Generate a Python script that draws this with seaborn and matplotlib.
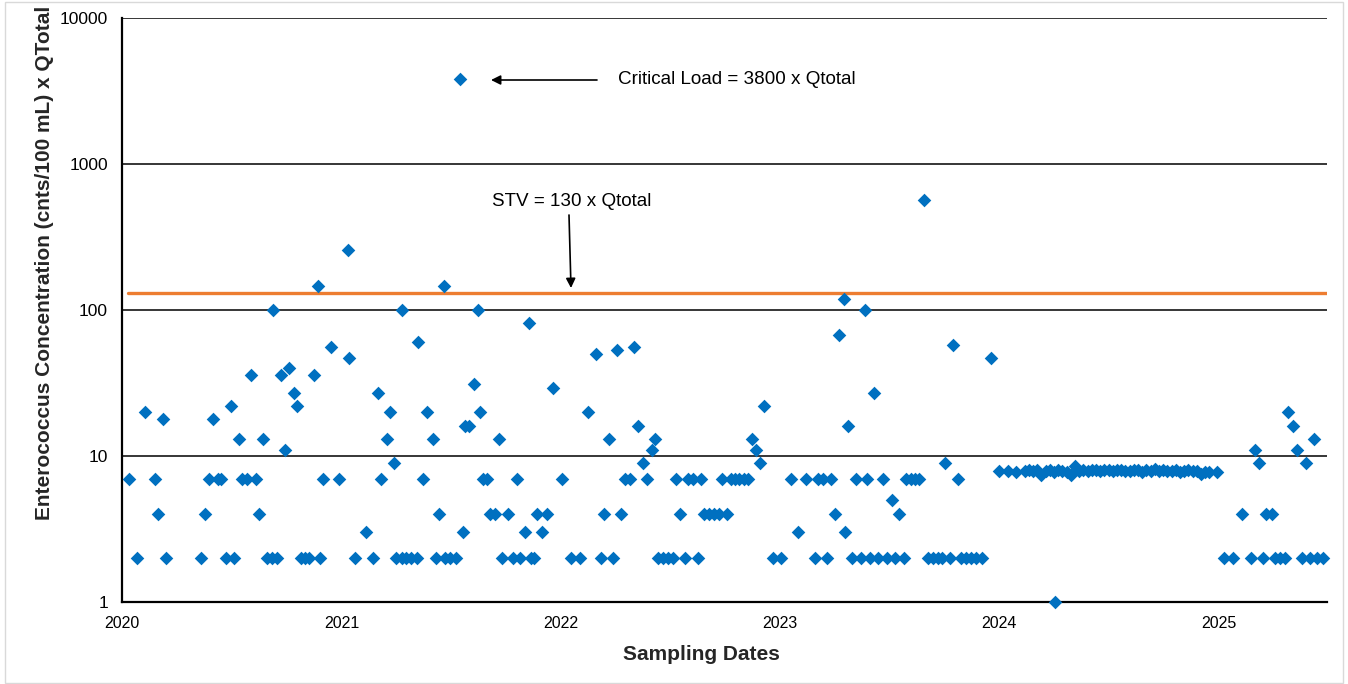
import numpy as np
import pandas as pd
import matplotlib
matplotlib.use("Agg")
import matplotlib.pyplot as plt
import matplotlib.dates as mdates
from matplotlib.ticker import FixedLocator, FuncFormatter, NullLocator
from matplotlib.patches import Rectangle
import seaborn as sns

# ---------------- data ----------------
dates_2020 = ["2020-01-12", "2020-01-26", "2020-02-08", "2020-02-25", "2020-03-01", "2020-03-09", "2020-03-14",
              "2020-05-12", "2020-05-18", "2020-05-25", "2020-06-01", "2020-06-09", "2020-06-14", "2020-06-22",
              "2020-07-01", "2020-07-06", "2020-07-14", "2020-07-19", "2020-07-27",
              "2020-08-03", "2020-08-11", "2020-08-16", "2020-08-23", "2020-08-30",
              "2020-09-07", "2020-09-09", "2020-09-15", "2020-09-22", "2020-09-29",
              "2020-10-05", "2020-10-14", "2020-10-19", "2020-10-26",
              "2020-11-01", "2020-11-08", "2020-11-16", "2020-11-23", "2020-11-26",
              "2020-12-01", "2020-12-15", "2020-12-28"]
values_2020 = [7, 2, 20, 7, 4, 18, 2,
               2, 4, 7, 18, 7, 7, 2,
               22, 2, 13, 7, 7,
               36, 7, 4, 13, 2,
               2, 100, 2, 36, 11,
               40, 27, 22, 2,
               2, 2, 36, 147, 2,
               7, 56, 7]

dates_2021 = ["2021-01-11", "2021-01-13", "2021-01-24", "2021-02-10", "2021-02-23",
              "2021-03-02", "2021-03-08", "2021-03-17", "2021-03-22", "2021-03-30",
              "2021-04-02", "2021-04-11", "2021-04-12", "2021-04-19", "2021-04-27",
              "2021-05-06", "2021-05-09", "2021-05-17", "2021-05-24",
              "2021-06-02", "2021-06-08", "2021-06-13", "2021-06-21", "2021-06-23", "2021-06-30",
              "2021-07-11", "2021-07-18", "2021-07-23", "2021-07-26",
              "2021-08-01", "2021-08-09", "2021-08-17", "2021-08-19", "2021-08-24",
              "2021-09-01", "2021-09-06", "2021-09-13", "2021-09-21", "2021-09-26",
              "2021-10-06", "2021-10-13", "2021-10-20", "2021-10-26",
              "2021-11-02", "2021-11-09", "2021-11-12", "2021-11-17", "2021-11-22",
              "2021-12-01", "2021-12-09", "2021-12-20"]
values_2021 = [257, 47, 2, 3, 2,
               27, 7, 13, 20, 9,
               2, 2, 100, 2, 2,
               2, 60, 7, 20,
               13, 2, 4, 147, 2, 2,
               2, 3800, 3, 16,
               16, 31, 100, 20, 7,
               7, 4, 4, 13, 2,
               4, 2, 7, 2,
               3, 81, 2, 2, 4,
               3, 4, 29]

dates_2022 = ["2022-01-04", "2022-01-19", "2022-02-02", "2022-02-15",
              "2022-03-01", "2022-03-09", "2022-03-15", "2022-03-22", "2022-03-29",
              "2022-04-05", "2022-04-11", "2022-04-18", "2022-04-26",
              "2022-05-03", "2022-05-10", "2022-05-18", "2022-05-25",
              "2022-06-02", "2022-06-07", "2022-06-12", "2022-06-21", "2022-06-29",
              "2022-07-07", "2022-07-12", "2022-07-19", "2022-07-27",
              "2022-08-01", "2022-08-09", "2022-08-18", "2022-08-23", "2022-08-28",
              "2022-09-05", "2022-09-14", "2022-09-22", "2022-09-27",
              "2022-10-05", "2022-10-12", "2022-10-19", "2022-10-25",
              "2022-11-02", "2022-11-09", "2022-11-16", "2022-11-23", "2022-11-29",
              "2022-12-06", "2022-12-21"]
values_2022 = [7, 2, 2, 20,
               50, 2, 4, 13, 2,
               53, 4, 7, 7,
               56, 16, 9, 7,
               11, 13, 2, 2, 2,
               2, 7, 4, 2,
               7, 7, 2, 7, 4,
               4, 4, 4, 7,
               4, 7, 7, 7,
               7, 7, 13, 11, 9,
               22, 2]

dates_2023 = ["2023-01-03", "2023-01-20", "2023-02-01", "2023-02-14",
              "2023-03-01", "2023-03-06", "2023-03-14", "2023-03-21", "2023-03-27",
              "2023-04-03", "2023-04-10", "2023-04-18", "2023-04-20", "2023-04-25",
              "2023-05-02", "2023-05-08", "2023-05-16", "2023-05-23", "2023-05-27",
              "2023-06-01", "2023-06-07", "2023-06-14", "2023-06-22", "2023-06-29",
              "2023-07-07", "2023-07-12", "2023-07-19", "2023-07-27", "2023-07-31",
              "2023-08-08", "2023-08-15", "2023-08-21", "2023-08-30",
              "2023-09-05", "2023-09-13", "2023-09-22", "2023-09-28",
              "2023-10-03", "2023-10-12", "2023-10-17", "2023-10-25", "2023-10-30",
              "2023-11-08", "2023-11-16", "2023-11-24",
              "2023-12-04", "2023-12-19"]
values_2023 = [2, 7, 3, 7,
               2, 7, 7, 2, 7,
               4, 67, 119, 3, 16,
               2, 7, 2, 100, 7,
               2, 27, 2, 7, 2,
               5, 2, 4, 2, 7,
               7, 7, 7, 567,
               2, 2, 2, 2,
               9, 2, 58, 7, 2,
               2, 2, 2,
               2, 47]

dates_2024 = ["2024-01-02", "2024-01-16", "2024-01-30", "2024-02-13", "2024-02-20", "2024-02-27",
              "2024-03-05", "2024-03-12", "2024-03-19", "2024-03-26",
              "2024-04-02", "2024-04-03", "2024-04-09", "2024-04-16", "2024-04-23", "2024-04-30",
              "2024-05-07", "2024-05-14", "2024-05-21", "2024-05-28",
              "2024-06-04", "2024-06-11", "2024-06-18", "2024-06-25",
              "2024-07-02", "2024-07-09", "2024-07-16", "2024-07-23", "2024-07-30",
              "2024-08-06", "2024-08-13", "2024-08-20", "2024-08-27",
              "2024-09-03", "2024-09-10", "2024-09-17", "2024-09-24",
              "2024-10-01", "2024-10-08", "2024-10-15", "2024-10-22", "2024-10-29",
              "2024-11-05", "2024-11-12", "2024-11-19", "2024-11-26",
              "2024-12-03", "2024-12-10", "2024-12-17", "2024-12-30"]
values_2024 = [7.9, 7.9, 7.8, 7.9, 8.0, 7.9,
               8.0, 7.4, 7.9, 8.0,
               7.8, 1, 8.0, 7.9, 7.8, 7.4,
               8.5, 7.9, 8.0, 7.9,
               8.0, 8.0, 7.9, 8.0,
               8.0, 7.9, 8.0, 8.0, 7.9,
               7.9, 8.0, 8.0, 7.8,
               8.0, 7.9, 8.1, 7.9,
               8.0, 7.9, 7.9, 8.0, 7.8,
               7.9, 8.0, 7.9, 7.9,
               7.5, 7.8, 7.8, 7.8]

dates_2025 = ["2025-01-10", "2025-01-25", "2025-02-09", "2025-02-24",
              "2025-03-03", "2025-03-09", "2025-03-16", "2025-03-21", "2025-03-31",
              "2025-04-05", "2025-04-13", "2025-04-22", "2025-04-27",
              "2025-05-05", "2025-05-12", "2025-05-20", "2025-05-27",
              "2025-06-02", "2025-06-09", "2025-06-14", "2025-06-24"]
values_2025 = [2, 2, 4, 2,
               11, 9, 2, 4, 4,
               2, 2, 2, 20,
               16, 11, 2, 9,
               2, 13, 2, 2]

stv_value = 130
y_ticks = [1, 10, 100, 1000, 10000]
x_start, x_end = "2020-01-01", "2025-07-01"

all_dates = dates_2020 + dates_2021 + dates_2022 + dates_2023 + dates_2024 + dates_2025
all_values = values_2020 + values_2021 + values_2022 + values_2023 + values_2024 + values_2025
df = pd.DataFrame({"date": pd.to_datetime(all_dates), "value": all_values})

# ---------------- style ----------------
sns.set_style("white")
plt.rcParams["font.family"] = ["Liberation Sans", "DejaVu Sans"]

W, H = 1348, 684
fig = plt.figure(figsize=(W / 100, H / 100), dpi=100)
ax = fig.add_axes([122 / W, 1 - 602 / H, 1205 / W, 584 / H])

sns.scatterplot(data=df, x="date", y="value", marker="D", s=48, color="#0070C0",
                linewidth=0, ax=ax, clip_on=False, zorder=5, legend=False)

ax.set_yscale("log")
ax.set_ylim(y_ticks[0], y_ticks[-1])
ax.set_xlim(pd.Timestamp(x_start), pd.Timestamp(x_end))

ax.yaxis.set_major_locator(FixedLocator(y_ticks))
ax.yaxis.set_minor_locator(NullLocator())
ax.yaxis.set_major_formatter(FuncFormatter(lambda v, p: f"{int(round(v))}"))
ax.xaxis.set_major_locator(mdates.YearLocator())
ax.xaxis.set_major_formatter(mdates.DateFormatter("%Y"))
ax.xaxis.set_minor_locator(NullLocator())

ax.grid(False)
for yv in y_ticks[1:]:
    ax.axhline(yv, color="black", linewidth=1.1, zorder=2)

ax.axhline(stv_value, xmin=0.005, color="#ED7D31", linewidth=2.4, zorder=3)

for side in ["top", "right"]:
    ax.spines[side].set_visible(False)
for side in ["left", "bottom"]:
    ax.spines[side].set_color("black")
    ax.spines[side].set_linewidth(1.6)

ax.tick_params(axis="x", direction="in", length=5, width=1.2, pad=10, labelsize=11.5, colors="black")
ax.tick_params(axis="y", direction="out", length=6, width=1.2, pad=4, labelsize=12.5, colors="black")

ax.set_xlabel("Sampling Dates", fontsize=15, fontweight="bold")
ax.xaxis.set_label_coords((701 - 122) / 1205, (602 - 654) / 584)
ax.xaxis.label.set_va("center")
ax.set_ylabel("Enterococcus Concentration (cnts/100 mL) x QTotal", fontsize=15, fontweight="bold")
ax.yaxis.set_label_coords((45 - 122) / 1205, (602 - 263) / 584)
ax.yaxis.label.set_va("center")

def fx(px):
    return (px - 122) / 1205

def fy(py):
    return (602 - py) / 584

ax.annotate("", xy=(fx(491), fy(80)), xytext=(fx(597), fy(80)), xycoords="axes fraction",
            textcoords="axes fraction",
            arrowprops=dict(arrowstyle="-|>", color="black", lw=1.2, mutation_scale=14, shrinkA=0, shrinkB=0))
ax.text(fx(618), fy(80), "Critical Load = 3800 x Qtotal", transform=ax.transAxes,
        ha="left", va="center", fontsize=13.6, color="black")

ax.annotate("", xy=(fx(571), fy(288)), xytext=(fx(569), fy(215)), xycoords="axes fraction",
            textcoords="axes fraction",
            arrowprops=dict(arrowstyle="-|>", color="black", lw=1.2, mutation_scale=14, shrinkA=0, shrinkB=0))
ax.text(fx(492), fy(202), "STV = 130 x Qtotal", transform=ax.transAxes,
        ha="left", va="center", fontsize=13.6, color="black")

fig.add_artist(Rectangle((5 / W, 1 / H), 1338 / W, 681 / H, transform=fig.transFigure,
                         fill=False, edgecolor="#d9d9d9", linewidth=1))

fig.savefig("out.png", dpi=100, facecolor="white")
